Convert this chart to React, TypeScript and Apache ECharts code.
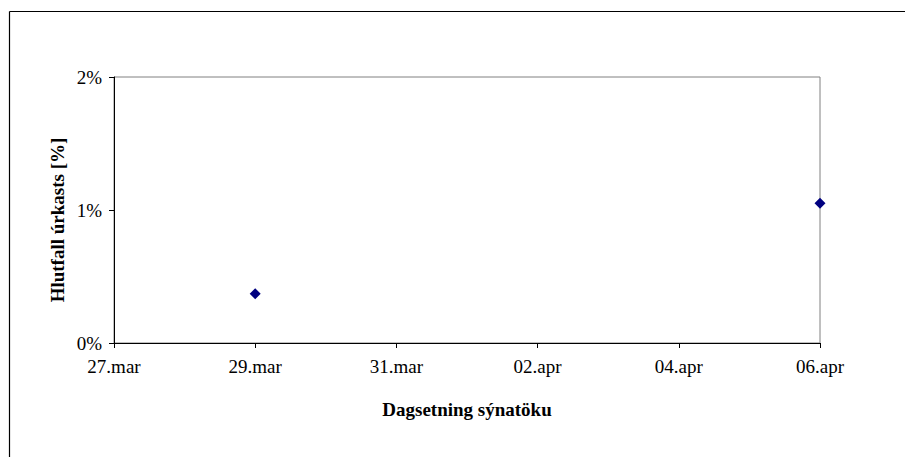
import React, { useEffect, useRef } from "react";
import * as echarts from "echarts";

// Sample dates and rejection ratio (%)
const sampleDates = ["2006-03-29", "2006-04-06"];
const rejectRatio = [0.37, 1.05];

// Date axis: first day shown and label spacing (days)
const axisStart = "2006-03-27";
const axisDays = 10;
const tickStepDays = 2;
const monthNames = ["jan", "feb", "mar", "apr", "maí", "jún", "júl", "ágú", "sep", "okt", "nóv", "des"];

const yTicks = [0, 1, 2];

const DAY = 86400000;
const startMs = Date.parse(axisStart + "T00:00:00Z");
const toDay = (d: string) => (Date.parse(d + "T00:00:00Z") - startMs) / DAY;
const dayLabel = (v: number) => {
  const dt = new Date(startMs + v * DAY);
  const dd = String(dt.getUTCDate()).padStart(2, "0");
  return `${dd}.${monthNames[dt.getUTCMonth()]}`;
};

const FONT = "'Liberation Serif', 'Times New Roman', serif";
const TICK_SIZE = 19;
const TITLE_SIZE = 19;

export default function App() {
  const ref = useRef<HTMLDivElement>(null);
  useEffect(() => {
    if (!ref.current) return;
    const chart = echarts.init(ref.current, undefined, { renderer: "svg" });
    chart.setOption({
      animation: false,
      backgroundColor: "#ffffff",
      textStyle: { fontFamily: FONT },
      // chart frame: top and left edges
      graphic: [
        {
          type: "line",
          shape: { x1: 9.5, y1: 11.5, x2: 905, y2: 11.5 },
          style: { stroke: "#000", lineWidth: 1.2 },
          silent: true,
        },
        {
          type: "line",
          shape: { x1: 9.5, y1: 11.5, x2: 9.5, y2: 457 },
          style: { stroke: "#000", lineWidth: 1.2 },
          silent: true,
        },
      ],
      grid: {
        left: 114,
        top: 77,
        right: 85,
        bottom: 114,
        show: true,
        borderColor: "#808080",
        borderWidth: 1,
        backgroundColor: "transparent",
      },
      xAxis: {
        type: "value",
        min: 0,
        max: axisDays,
        interval: tickStepDays,
        name: "Dagsetning sýnatöku",
        nameLocation: "middle",
        nameGap: 57,
        nameTextStyle: { fontFamily: FONT, fontSize: TITLE_SIZE, fontWeight: "bold", color: "#000" },
        axisLine: { show: true, onZero: false, lineStyle: { color: "#000", width: 1 } },
        axisTick: { show: true, length: 5, lineStyle: { color: "#000" } },
        axisLabel: {
          fontFamily: FONT,
          fontSize: TICK_SIZE,
          color: "#000",
          margin: 14,
          formatter: (v: number) => dayLabel(v),
        },
        splitLine: { show: false },
      },
      yAxis: {
        type: "value",
        min: yTicks[0],
        max: yTicks[yTicks.length - 1],
        interval: 1,
        name: "Hlutfall úrkasts [%]",
        nameLocation: "middle",
        nameGap: 47,
        nameMoveOverlap: false,
        nameTextStyle: {
          fontFamily: FONT,
          fontSize: TITLE_SIZE,
          fontWeight: "bold",
          color: "#000",
          padding: [0, 20, 0, 0],
        },
        axisLine: { show: true, lineStyle: { color: "#000", width: 1 } },
        axisTick: { show: true, length: 5, lineStyle: { color: "#000" } },
        axisLabel: {
          fontFamily: FONT,
          fontSize: TICK_SIZE,
          color: "#000",
          margin: 12,
          formatter: "{value}%",
        },
        splitLine: { show: false },
      },
      series: [
        {
          type: "scatter",
          symbol: "diamond",
          symbolSize: 11,
          itemStyle: { color: "#000080", opacity: 1 },
          data: sampleDates.map((d, i) => [toDay(d), rejectRatio[i]]),
        },
      ],
    });
    return () => chart.dispose();
  }, []);
  return (
    <div
      ref={ref}
      style={{ position: "fixed", left: 0, top: 0, width: 905, height: 457 }}
    />
  );
}
